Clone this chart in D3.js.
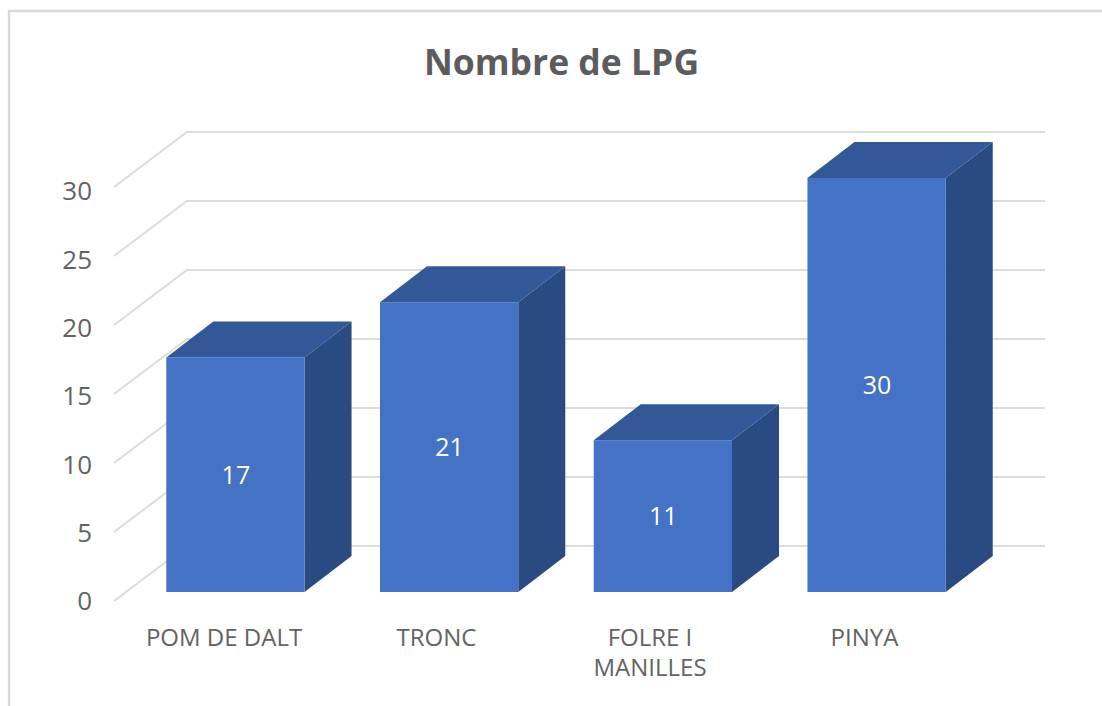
<!DOCTYPE html>
<html><head><meta charset="utf-8">
<script src="https://cdn.jsdelivr.net/npm/d3@7/dist/d3.min.js"></script>
<style>html,body{margin:0;padding:0;background:#fff}svg{display:block}text{font-family:"Open Sans","Noto Sans",sans-serif}</style>
</head><body><svg id="c" width="1102" height="706"></svg>
<script>
const categories=[["POM DE DALT"],["TRONC"],["FOLRE I","MANILLES"],["PINYA"]];
const labelCentres=[224,436.5,650,864.5];
const values=[17,21,11,30];
const ticks=[0,5,10,15,20,25,30];
const title="Nombre de LPG";
const svg=d3.select("#c");
const y=d3.scaleLinear().domain([0,30]).range([592,178]);
const yLabel=d3.scaleLinear().domain([0,30]).range([603.5,193.5]);
const x=d3.scaleBand().domain(d3.range(4)).range([131,981]).paddingInner(0.353).paddingOuter(0.165);
const dx=47,dy=-36;
svg.append("path").attr("d","M9,706V11H1102").attr("fill","none").attr("stroke","#d9d9d9").attr("stroke-width",2.5);
const g=svg.append("g");
ticks.forEach(t=>{
  const yy=y(t);
  g.append("path").attr("d",`M114,${yy+9}L${114+73},${yy+9-55}H1045`).attr("fill","none").attr("stroke","#dcdcdc").attr("stroke-width",2);
  svg.append("text").attr("x",92).attr("y",yLabel(t)).attr("text-anchor","end").attr("dominant-baseline","middle").attr("font-size",26).attr("fill","#636363").text(t);
});
values.forEach((v,i)=>{
  const b=x(i),w=x.bandwidth(),t=y(v),base=y(0);
  svg.append("path").attr("d",`M${b+w},${t}l${dx},${dy}V${base+dy}l${-dx},${-dy}Z`).attr("fill","#2a4a82");
  svg.append("path").attr("d",`M${b},${t}l${dx},${dy}h${w}l${-dx},${-dy}Z`).attr("fill","#335898");
  svg.append("rect").attr("x",b).attr("y",t).attr("width",w).attr("height",base-t).attr("fill","#4472c4");
  svg.append("text").attr("x",b+w/2+0.5).attr("y",(t+base)/2+2.5).attr("text-anchor","middle").attr("dominant-baseline","middle").attr("font-size",25).attr("fill","#fff").text(v);
});
categories.forEach((c,i)=>{
  c.forEach((l,j)=>svg.append("text").attr("x",labelCentres[i]).attr("y",646+j*30).attr("text-anchor","middle").attr("font-size",24).attr("fill","#636363").text(l));
});
svg.append("text").attr("x",561.5).attr("y",75).attr("text-anchor","middle").attr("font-size",35.5).attr("font-weight",700).attr("fill","#5c5c5c").text(title);
</script></body></html>
